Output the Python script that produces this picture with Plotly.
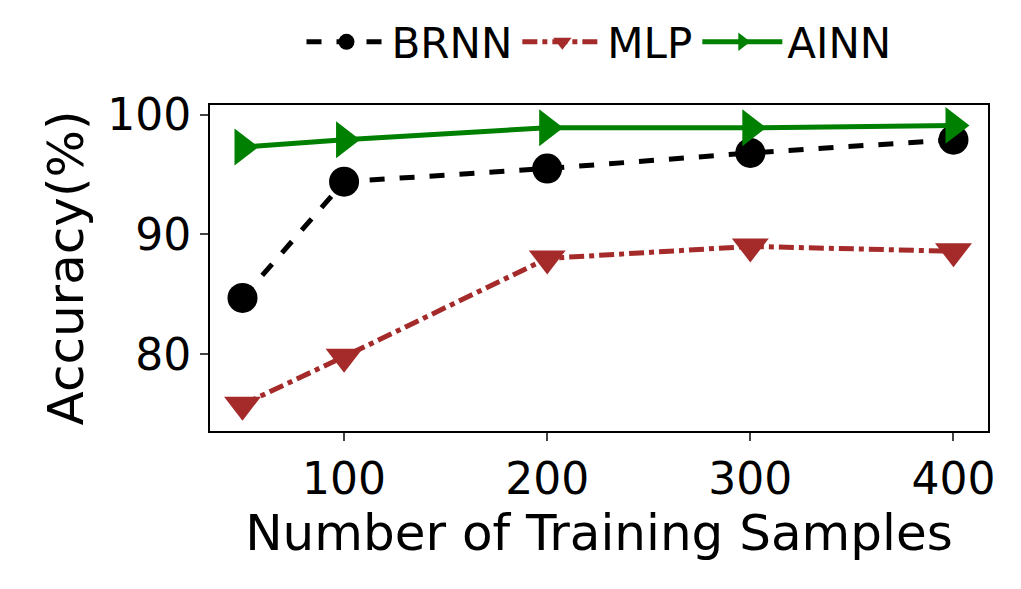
import plotly.graph_objects as go

samples = [50, 100, 200, 300, 400]
brnn = [84.7, 94.4, 95.5, 96.8, 97.9]
mlp = [75.8, 79.8, 88.0, 89.0, 88.6]
ainn = [97.3, 97.9, 98.9, 98.9, 99.1]

fig = go.Figure()
fig.add_trace(go.Scatter(x=samples, y=brnn, name="BRNN", mode="lines+markers",
                         line=dict(color="black", width=5, dash="dash"),
                         marker=dict(symbol="circle", size=30, color="black")))
fig.add_trace(go.Scatter(x=samples, y=mlp, name="MLP", mode="lines+markers",
                         line=dict(color="#a52a2a", width=5, dash="dashdot"),
                         marker=dict(symbol="triangle-down", size=32, color="#a52a2a")))
fig.add_trace(go.Scatter(x=samples, y=ainn, name="AINN", mode="lines+markers",
                         line=dict(color="green", width=5),
                         marker=dict(symbol="triangle-right", size=32, color="green")))

fig.update_layout(
    width=1021, height=589,
    margin=dict(l=202, r=41, t=97, b=166, autoexpand=False),
    plot_bgcolor="white", paper_bgcolor="white",
    font=dict(family="DejaVu Sans", size=44, color="black"),
    showlegend=True,
    legend=dict(orientation="h", x=0.5, xanchor="center", y=1.0, yanchor="top",
                yref="container", font=dict(size=42), itemwidth=80),
)
fig.update_xaxes(range=[34, 417], tickvals=[100, 200, 300, 400],
                 title=dict(text="Number of Training Samples", font=dict(size=50), standoff=8),
                 showline=True, linecolor="black", linewidth=2, mirror=True,
                 ticks="outside", ticklen=8, tickwidth=2, showgrid=False, zeroline=False)
fig.update_yaxes(range=[73.6, 100.8], tickvals=[80, 90, 100],
                 title=dict(text="Accuracy(%)", font=dict(size=50), standoff=8),
                 showline=True, linecolor="black", linewidth=2, mirror=True,
                 ticks="outside", ticklen=8, tickwidth=2, showgrid=False, zeroline=False)

fig.write_html("out.html")
